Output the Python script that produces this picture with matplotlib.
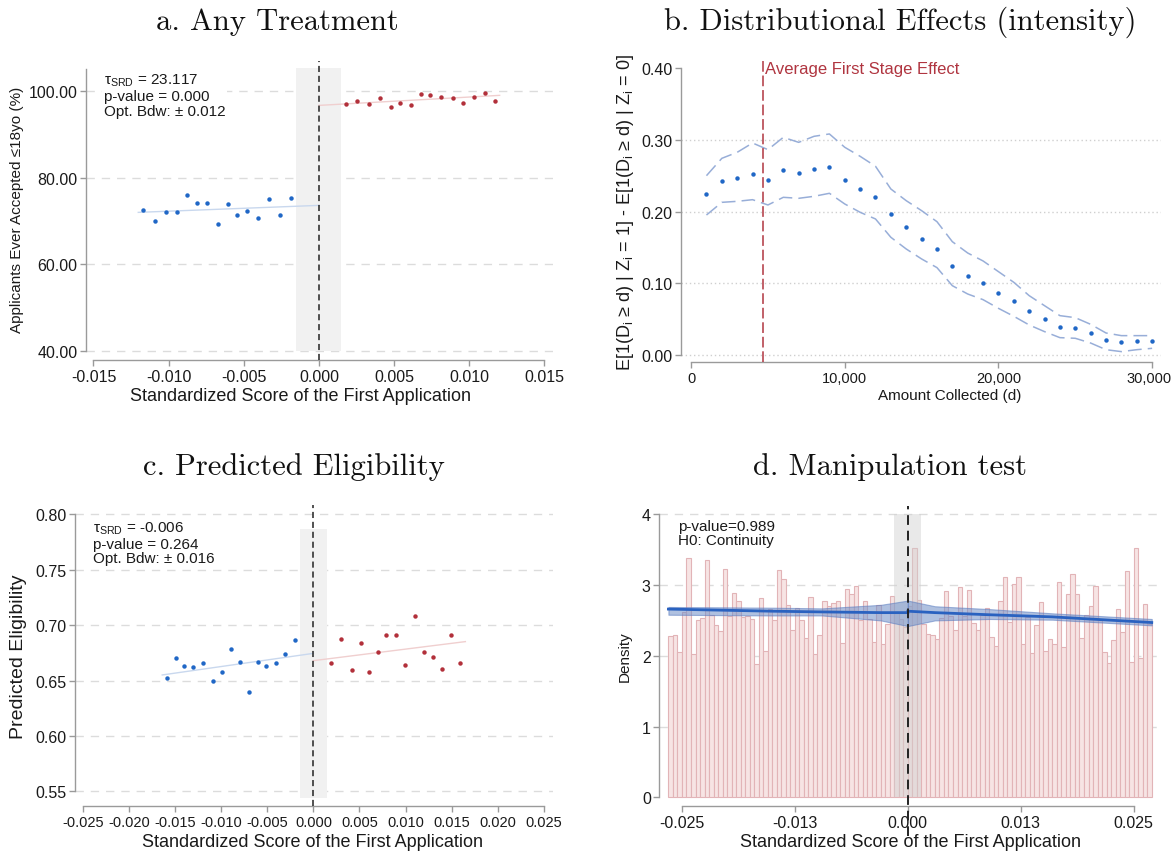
import matplotlib
matplotlib.use("Agg")
import matplotlib.pyplot as plt
import matplotlib.transforms as mtransforms
import numpy as np

plt.rcParams['font.family'] = ['Liberation Sans Narrow', 'Liberation Sans', 'DejaVu Sans']
plt.rcParams['mathtext.fontset'] = 'custom'
plt.rcParams['mathtext.rm'] = 'Liberation Sans'
plt.rcParams['mathtext.it'] = 'Liberation Sans'

# ---- a. Any Treatment ----
a_x_left = [-0.01169, -0.01092, -0.01019, -0.00944, -0.00876, -0.00811, -0.00744, -0.00671,
            -0.00608, -0.00543, -0.00476, -0.00406, -0.00331, -0.00258, -0.00185]
a_y_left = [72.53, 70.07, 72.14, 72.14, 75.98, 74.14, 74.14, 69.22,
            73.91, 71.37, 72.37, 70.76, 75.13, 71.30, 75.36]
a_x_right = [0.00180, 0.00250, 0.00331, 0.00406, 0.00478, 0.00538, 0.00614, 0.00679,
             0.00739, 0.00814, 0.00889, 0.00957, 0.01032, 0.01107, 0.01174]
a_y_right = [96.93, 97.54, 96.93, 98.23, 96.32, 97.16, 96.70, 99.23,
             99.00, 98.62, 98.23, 97.16, 98.62, 99.46, 97.54]
a_fit_left = ([-0.01202, 0.0], [71.99, 73.60])
a_fit_right = ([0.0, 0.01202], [96.62, 98.93])
a_stats = ["= 23.117", "p-value = 0.000", "Opt. Bdw: \u00b1 0.012"]

# ---- b. Distributional Effects ----
b_amount = list(range(1000, 31000, 1000))
b_effect = [0.2242, 0.2433, 0.2474, 0.2526, 0.2442, 0.2577, 0.2540, 0.2600, 0.2619, 0.2442,
            0.2312, 0.2209, 0.1963, 0.1786, 0.1619, 0.1479, 0.1237, 0.1098, 0.1005, 0.0865,
            0.0749, 0.0614, 0.0507, 0.0395, 0.0377, 0.0312, 0.0209, 0.0177, 0.0191, 0.0191]
b_upper = [0.2502, 0.2744, 0.2828, 0.2958, 0.2865, 0.3037, 0.2967, 0.3051, 0.3084, 0.2898,
           0.2772, 0.2633, 0.2316, 0.2153, 0.2014, 0.1860, 0.1581, 0.1423, 0.1312, 0.1163,
           0.1014, 0.0828, 0.0688, 0.0549, 0.0521, 0.0428, 0.0307, 0.0270, 0.0270, 0.0270]
b_lower = [0.1953, 0.2130, 0.2144, 0.2167, 0.2093, 0.2200, 0.2186, 0.2214, 0.2256, 0.2107,
           0.1991, 0.1898, 0.1642, 0.1479, 0.1340, 0.1219, 0.0967, 0.0851, 0.0772, 0.0651,
           0.0540, 0.0419, 0.0326, 0.0242, 0.0233, 0.0167, 0.0074, 0.0047, 0.0074, 0.0093]
b_first_stage = 4694

# ---- c. Predicted Eligibility ----
c_x_left = [-0.01591, -0.01493, -0.01399, -0.01301, -0.01199, -0.01093, -0.00987, -0.00889,
            -0.00795, -0.00693, -0.00604, -0.00510, -0.00408, -0.00306, -0.00200]
c_y_left = [0.6526, 0.6706, 0.6631, 0.6619, 0.6655, 0.6493, 0.6577, 0.6788,
            0.6667, 0.6400, 0.6667, 0.6631, 0.6658, 0.6739, 0.6869]
c_x_right = [0.00196, 0.00302, 0.00416, 0.00514, 0.00608, 0.00701, 0.00791, 0.00893,
             0.00995, 0.01105, 0.01203, 0.01297, 0.01391, 0.01488, 0.01591]
c_y_right = [0.6655, 0.6878, 0.6592, 0.6839, 0.6574, 0.6755, 0.6914, 0.6914,
             0.6637, 0.7082, 0.6758, 0.6712, 0.6607, 0.6908, 0.6658]
c_fit_left = ([-0.01639, 0.0], [0.6550, 0.6745])
c_fit_right = ([0.0, 0.01648], [0.6679, 0.6851])
c_stats = ["= -0.006", "p-value = 0.264", "Opt. Bdw: \u00b1 0.016"]

# ---- d. Manipulation test ----
d_bin_start = -0.0265
d_bin_width = 0.0005
d_density = [2.28, 2.29, 2.05, 2.62, 3.38, 2.02, 2.50, 2.54, 3.36, 2.58, 2.44, 2.35, 3.23, 2.56,
             2.89, 2.77, 2.55, 2.56, 2.52, 1.89, 2.81, 2.07, 2.66, 2.50, 3.21, 3.08, 2.72, 2.36,
             2.67, 2.50, 2.25, 2.83, 2.02, 2.30, 2.78, 2.70, 2.75, 2.78, 2.18, 2.94, 2.88, 2.98,
             2.50, 2.78, 2.52, 2.20, 2.72, 2.17, 2.45, 2.84, 2.60, 2.52, 2.40, 2.70, 3.52, 2.79,
             2.45, 2.31, 2.30, 2.24, 2.53, 2.92, 2.56, 2.36, 2.97, 2.56, 2.93, 2.46, 2.37, 2.58,
             2.67, 2.26, 2.14, 2.77, 3.11, 2.48, 3.01, 3.12, 2.16, 2.55, 2.04, 2.44, 2.76, 2.07,
             2.24, 2.16, 3.04, 2.12, 2.87, 3.16, 2.87, 2.25, 2.57, 2.70, 2.98, 2.50, 2.06, 1.90,
             2.23, 2.66, 2.34, 3.20, 1.91, 3.53, 1.97, 2.73, 2.45]
d_fit_left_x = [-0.0265, -0.015, -0.0095, -0.003, 0.0]
d_fit_left = [2.66, 2.63, 2.62, 2.61, 2.61]
d_fit_left_hi = [2.69, 2.68, 2.67, 2.72, 2.78]
d_fit_left_lo = [2.58, 2.57, 2.57, 2.50, 2.42]
d_fit_right_x = [0.0, 0.003, 0.009, 0.016, 0.027]
d_fit_right = [2.63, 2.61, 2.58, 2.55, 2.47]
d_fit_right_hi = [2.78, 2.70, 2.66, 2.60, 2.52]
d_fit_right_lo = [2.42, 2.50, 2.52, 2.51, 2.43]
d_stats = ["p-value=0.989", "H0: Continuity"]

BLUE = '#2067c6'
RED = '#b2303a'
AXIS_GREY = '#9a9a9a'
TEXT = '#1a1a1a'
TICK_FS = 11.5

W, H = 1173, 854
fig = plt.figure(figsize=(W / 100, H / 100), dpi=100)


def px_axes(left, top, right, bottom):
    return fig.add_axes([left / W, 1 - bottom / H, (right - left) / W, (bottom - top) / H])


def stata_style(ax, xb, yb, xfs=TICK_FS):
    for s in ('top', 'right'):
        ax.spines[s].set_visible(False)
    for s in ('left', 'bottom'):
        ax.spines[s].set_color(AXIS_GREY)
        ax.spines[s].set_linewidth(1.0)
    ax.spines['bottom'].set_bounds(*xb)
    ax.spines['left'].set_bounds(*yb)
    ax.tick_params(axis='both', colors=AXIS_GREY, labelcolor=TEXT, labelsize=TICK_FS,
                   length=4.5, width=1.0, direction='out')
    ax.tick_params(axis='y', pad=1.5)
    ax.tick_params(axis='x', pad=2, labelsize=xfs)
    ax.set_facecolor('none')


def stats_box(ax, x, y, lines, tau=True, fs=11):
    txt = "\n".join(lines)
    if tau:
        txt = r"$\tau_{\rm SRD}$ " + txt
    ax.text(x, y, txt, transform=ax.transAxes, ha='left', va='top', fontsize=fs, color=TEXT,
            linespacing=1.05, bbox=dict(fc='white', ec='none', pad=1.0), zorder=6)


title_kw = dict(fontfamily='cmr10', fontsize=22, ha='center', va='center', color='#111111')
label_kw = dict(color=TEXT, ha='center', va='center')

# ---------------- panel a ----------------
ax = px_axes(85.8, 62, 553, 361)
ax.set_xlim(-0.01551, 0.01557)
ax.set_ylim(38.0, 106.84)
stata_style(ax, (-0.015, 0.015), (40, 105))
ax.set_yticks([40, 60, 80, 100])
ax.set_yticklabels([f"{v:.2f}" for v in [40, 60, 80, 100]])
xt = [-0.015, -0.010, -0.005, 0.0, 0.005, 0.010, 0.015]
ax.set_xticks(xt)
ax.set_xticklabels([f"{v:.3f}" if v != 0 else "0.000" for v in xt])
for yv in [40, 60, 80, 100]:
    ax.axhline(yv, color='#dcdcdc', lw=1, ls=(0, (6, 5)), zorder=0)
ax.fill_between([-0.0015, 0.0015], 40, 105.2, color='#f1f1f1', lw=0, zorder=1)
ax.axvline(0, color='#222222', lw=1.1, ls=(0, (4, 2.5)), zorder=3)
ax.plot(*a_fit_left, color='#c9d8ee', lw=1, zorder=2)
ax.plot(*a_fit_right, color='#f0cfcf', lw=1, zorder=2)
ax.plot(a_x_left, a_y_left, 'o', color=BLUE, ms=3.2, mec='none', zorder=4)
ax.plot(a_x_right, a_y_right, 'o', color=RED, ms=3.2, mec='none', zorder=4)
stats_box(ax, 0.0385, 0.963, a_stats)
fig.text(277 / W, 1 - 22 / H, "a. Any Treatment", **title_kw)
fig.text(300 / W, 1 - 397 / H, "Standardized Score of the First Application", fontsize=13, **label_kw)
fig.text(17 / W, 1 - 210 / H, "Applicants Ever Accepted \u226418yo (%)", fontsize=11,
         rotation=90, **label_kw)

# ---------------- panel b ----------------
ax = px_axes(681, 62, 1160.6, 363.3)
ax.set_xlim(-657, 30553)
ax.set_ylim(-0.0102, 0.4102)
stata_style(ax, (0, 30000), (0, 0.40), xfs=10.5)
ax.set_yticks([0, 0.1, 0.2, 0.3, 0.4])
ax.set_yticklabels([f"{v:.2f}" for v in [0, 0.1, 0.2, 0.3, 0.4]])
ax.set_xticks([0, 10000, 20000, 30000])
ax.set_xticklabels(["0", "10,000", "20,000", "30,000"])
# last tick label sits at the figure edge; nudge it inward a little
last = ax.get_xticklabels()[-1]
last.set_transform(last.get_transform() +
                   mtransforms.ScaledTranslation(-3 / 100, 0, fig.dpi_scale_trans))
for yv in [0, 0.1, 0.2, 0.3]:
    ax.axhline(yv, color='#cfcfcf', lw=1, ls=(0, (1, 2)), zorder=0)
ax.plot(b_amount, b_upper, color='#98aed8', lw=1.1, ls=(0, (9, 4)), zorder=2)
ax.plot(b_amount, b_lower, color='#98aed8', lw=1.1, ls=(0, (9, 4)), zorder=2)
ax.plot(b_amount, b_effect, 'o', color=BLUE, ms=3.2, mec='none', zorder=4)
ax.axvline(b_first_stage, color='#b03540', lw=1.1, ls=(0, (7, 2.5)), zorder=3)
ax.text(b_first_stage + 100, 0.4, "Average First Stage Effect", color='#b03540', fontsize=12,
        ha='left', va='center')
fig.text(900 / W, 1 - 22 / H, "b. Distributional Effects (intensity)", **title_kw)
fig.text(950 / W, 1 - 396 / H, "Amount Collected (d)", fontsize=11, **label_kw)
fig.text(625 / W, 1 - 213 / H,
         "E[1(D$_i$ \u2265 d) | Z$_i$ = 1] - E[1(D$_i$ \u2265 d) | Z$_i$ = 0]",
         fontsize=13, rotation=90, **label_kw)

# ---------------- panel c ----------------
ax = px_axes(74.5, 506, 553, 806.7)
ax.set_xlim(-0.0259, 0.02598)
ax.set_ylim(0.537, 0.8084)
stata_style(ax, (-0.025, 0.025), (0.55, 0.80), xfs=10.5)
yt = [0.55, 0.60, 0.65, 0.70, 0.75, 0.80]
ax.set_yticks(yt)
ax.set_yticklabels([f"{v:.2f}" for v in yt])
xt = [-0.025, -0.020, -0.015, -0.010, -0.005, 0.0, 0.005, 0.010, 0.015, 0.020, 0.025]
ax.set_xticks(xt)
ax.set_xticklabels([f"{v:.3f}" if v != 0 else "0.000" for v in xt])
for yv in yt:
    ax.axhline(yv, color='#dcdcdc', lw=1, ls=(0, (6, 5)), zorder=0)
ax.fill_between([-0.0015, 0.0015], 0.544, 0.7867, color='#f1f1f1', lw=0, zorder=1)
ax.axvline(0, color='#222222', lw=1.1, ls=(0, (4, 2.5)), zorder=3)
ax.plot(*c_fit_left, color='#c9d8ee', lw=1, zorder=2)
ax.plot(*c_fit_right, color='#f0cfcf', lw=1, zorder=2)
ax.plot(c_x_left, c_y_left, 'o', color=BLUE, ms=3.2, mec='none', zorder=4)
ax.plot(c_x_right, c_y_right, 'o', color=RED, ms=3.2, mec='none', zorder=4)
stats_box(ax, 0.0387, 0.951, c_stats)
fig.text(294 / W, 1 - 467 / H, "c. Predicted Eligibility", **title_kw)
fig.text(313 / W, 1 - 843 / H, "Standardized Score of the First Application", fontsize=13, **label_kw)
fig.text(19 / W, 1 - 657 / H, "Predicted Eligibility", fontsize=14, rotation=90, **label_kw)

# ---------------- panel d ----------------
ax = px_axes(659.1, 507, 1160.6, 806.7)
ax.set_xlim(-0.02753, 0.02798)
ax.set_ylim(-0.119, 4.117)
stata_style(ax, (-0.025, 0.025), (0, 4))
ax.set_yticks([0, 1, 2, 3, 4])
ax.set_yticklabels(["0", "1", "2", "3", "4"])
ax.set_xticks([-0.025, -0.0125, 0.0, 0.0125, 0.025])
ax.set_xticklabels(["-0.025", "-0.013", "0.000", "0.013", "0.025"])
for yv in [1, 2, 3, 4]:
    ax.axhline(yv, color='#dcdcdc', lw=1, ls=(0, (6, 5)), zorder=0)
edges = d_bin_start + d_bin_width * np.arange(len(d_density))
ax.bar(edges, d_density, width=d_bin_width, align='edge', facecolor='#f7e4e4',
       edgecolor='#e2b4b7', lw=0.8, zorder=1)
ax.fill_between([-0.0015, 0.0015], 0, 4.0, color='#cfcfcf', alpha=0.45, lw=0, zorder=2)
ax.fill_between(d_fit_left_x, d_fit_left_lo, d_fit_left_hi, color='#6f8fc8', alpha=0.55,
                lw=0.8, edgecolor='#5a7cc0', zorder=3)
ax.fill_between(d_fit_right_x, d_fit_right_lo, d_fit_right_hi, color='#6f8fc8', alpha=0.55,
                lw=0.8, edgecolor='#5a7cc0', zorder=3)
ax.plot(d_fit_left_x, d_fit_left, color='#2a62c0', lw=2, zorder=4)
ax.plot(d_fit_right_x, d_fit_right, color='#2a62c0', lw=2, zorder=4)
ax.plot([0, 0], [-0.543, 4.12], color='#222222', lw=1.4, ls=(0, (5, 3)), zorder=5, clip_on=False)
stats_box(ax, 0.0377, 0.957, d_stats, tau=False)
fig.text(890 / W, 1 - 467 / H, "d. Manipulation test", **title_kw)
fig.text(910 / W, 1 - 843 / H, "Standardized Score of the First Application", fontsize=13, **label_kw)
fig.text(625 / W, 1 - 657 / H, "Density", fontsize=11, rotation=90, **label_kw)

fig.savefig("out.png", dpi=100, facecolor='white')
